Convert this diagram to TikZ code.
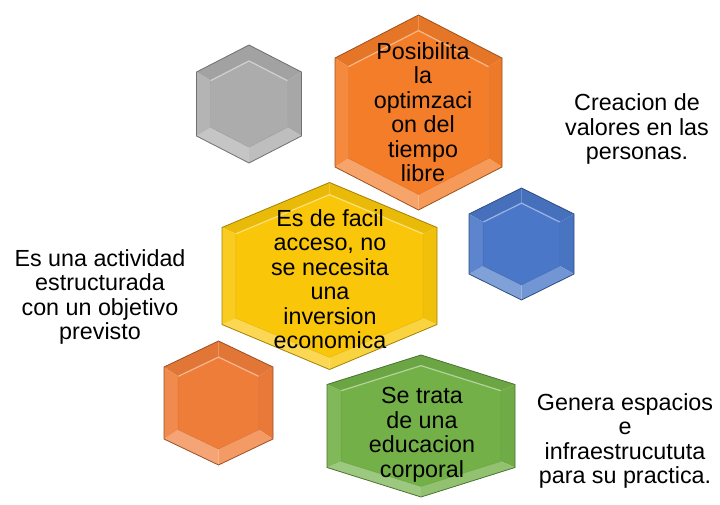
\documentclass[tikz,border=0pt]{standalone}
\usepackage{fontspec}
\setmainfont{Liberation Sans}
\definecolor{cgray}{RGB}{172,172,172}
\definecolor{corangeA}{RGB}{244,125,42}
\definecolor{corangeB}{RGB}{239,125,58}
\definecolor{cblue}{RGB}{74,119,200}
\definecolor{cyellow}{RGB}{249,198,10}
\definecolor{cgreen}{RGB}{115,176,72}
\tikzset{
  lbl/.style={align=center, text=black, inner sep=0pt, font=\fontsize{23.3}{24.5}\selectfont},
}
% #1 cx, #2 cy, #3 half width, #4 top, #5 corner, #6 inner scale, #7 colour
\newcommand{\hexbev}[7]{%
  \begin{scope}[shift={(#1,#2)}]
    \coordinate (T) at (0,-#4);
    \coordinate (UR) at (#3,-#5);
    \coordinate (LR) at (#3,#5);
    \coordinate (B) at (0,#4);
    \coordinate (LL) at (-#3,#5);
    \coordinate (UL) at (-#3,-#5);
    \coordinate (Ti) at (0,{-#4*#6});
    \coordinate (URi) at ({#3*#6},{-#5*#6});
    \coordinate (LRi) at ({#3*#6},{#5*#6});
    \coordinate (Bi) at (0,{#4*#6});
    \coordinate (LLi) at ({-#3*#6},{#5*#6});
    \coordinate (ULi) at ({-#3*#6},{-#5*#6});
    \fill[#7!94!black] (UL) -- (T) -- (Ti) -- (ULi) -- cycle;
    \fill[#7!94!black] (T) -- (UR) -- (URi) -- (Ti) -- cycle;
    \fill[#7!97!black] (UR) -- (LR) -- (LRi) -- (URi) -- cycle;
    \fill[#7!78!white] (LR) -- (B) -- (Bi) -- (LRi) -- cycle;
    \fill[#7!70!white] (B) -- (LL) -- (LLi) -- (Bi) -- cycle;
    \fill[#7!90!white] (LL) -- (UL) -- (ULi) -- (LLi) -- cycle;
    \fill[#7] (Ti) -- (URi) -- (LRi) -- (Bi) -- (LLi) -- (ULi) -- cycle;
    \draw[#7!55!white, line width=1.2pt] (ULi) -- (Ti) -- (URi);
    \draw[#7!92!black, line width=0.5pt] (URi) -- (LRi) -- (Bi) -- (LLi) -- (ULi);
    \draw[#7!65!black, line width=0.8pt] (T) -- (UR) -- (LR) -- (B) -- (LL) -- (UL) -- cycle;
  \end{scope}}
\begin{document}
\begin{tikzpicture}[x=1pt, y=-1pt]
  \useasboundingbox[fill=white] (0,0) rectangle (720,505);
  % hexagons
  \hexbev{249}{104}{52.5}{59}{32}{0.73}{cgray}
  \hexbev{418.5}{112.5}{83.5}{97.5}{54.5}{0.84}{corangeA}
  \hexbev{521.5}{244}{52.5}{56}{30}{0.73}{cblue}
  \hexbev{329.5}{276}{107.5}{93.5}{48.5}{0.87}{cyellow}
  \hexbev{218.5}{403}{54.5}{62}{36}{0.74}{corangeB}
  \hexbev{421}{426}{94}{71}{41.5}{0.85}{cgreen}
  % texts inside hexagons
  \node[lbl] (t1) at (423,112) {Posibilita\\la\\optimzaci\\on del\\tiempo\\libre};
  \node[lbl] (t2) at (330,279) {Es de facil\\acceso, no\\se necesita\\una\\inversion\\economica};
  \node[lbl] (t3) at (422,435) {Se trata\\de una\\educacion\\corporal};
  % side texts
  \node[lbl] (s1) at (637,129) {Creacion de\\valores en las\\personas.};
  \node[lbl] (s2) at (100,297) {Es una actividad\\estructurada\\con un objetivo\\previsto};
  \node[lbl] (s3) at (625,441) {Genera espacios\\e\\infraestrucututa\\para su practica.};
\end{tikzpicture}
\end{document}
